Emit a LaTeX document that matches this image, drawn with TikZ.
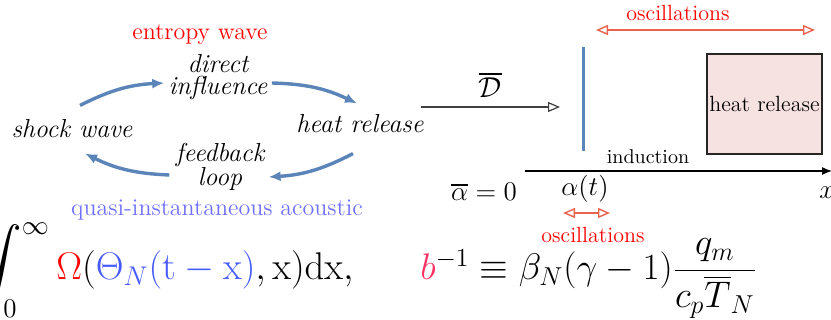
\RequirePackage{fix-cm}
\documentclass[tikz,border=0pt]{standalone}
\usepackage{amsmath}
\usetikzlibrary{arrows.meta,positioning}
\definecolor{cycblue}{RGB}{91,132,184}
\definecolor{oscred}{RGB}{232,98,78}
\definecolor{acoublue}{RGB}{110,110,255}
\definecolor{thetablue}{RGB}{70,90,255}
\definecolor{bpink}{RGB}{255,50,100}
\definecolor{heatfill}{RGB}{247,226,226}

\begin{document}
\begin{tikzpicture}[
  x=0.5pt,y=-0.5pt,
  cyc/.style={-{Latex[length=6pt,width=5pt]},line width=1.7pt,draw=cycblue},
  osc/.style={{Triangle[open,length=6pt,width=5pt]}-{Triangle[open,length=6pt,width=5pt]},line width=.7pt,draw=oscred},
  mean/.style={-{Triangle[open,length=6pt,width=5pt]},line width=.6pt,draw=black!75},
  word/.style={font=\fontsize{13}{15}\selectfont\itshape,inner sep=1pt,align=center},
  redtxt/.style={text=red,font=\fontsize{11}{13}\selectfont,inner sep=1pt},
  bigmath/.style={font=\fontsize{19.3}{23}\selectfont,inner sep=0pt,anchor=base west}]
\useasboundingbox (0,0) rectangle (831,320);

% loop of influences
\node[text=red,font=\large,inner sep=1pt] (entropy) at (200,35) {entropy wave};
\node[word] (direct) at (218,77) {direct\\[-4pt]influence};
\node[word] (shock) at (72,129) {shock wave};
\node[word] (heat) at (360,124) {heat release};
\node[word] (feedback) at (220,167) {feedback\\[-3pt]loop};
\node[text=acoublue,font=\large,inner sep=1pt] (acoustic) at (217,210) {quasi-instantaneous acoustic};
\draw[cyc] ([shift={(8,-12)}]shock.north) to[bend left=12] ([shift={(-2,6)}]direct.west);
\draw[cyc] ([shift={(2,6)}]direct.east) to[bend left=12] ([shift={(-3,-9)}]heat.north);
\draw[cyc] ([shift={(-7,18)}]heat.south) to[bend left=12] ([shift={(2,10)}]feedback.east);
\draw[cyc] ([shift={(-4,8)}]feedback.west) to[bend left=12] ([shift={(13,13)}]shock.south);

% front and induction zone
\coordinate (dstart) at (421,107);
\coordinate (dtip) at (560,107);
\draw[mean] (dstart) -- node[above=1pt,font=\Large] (dbar) {$\overline{\mathcal{D}}$} (dtip);
\node[fill=cycblue,minimum width=1.5pt,minimum height=52pt,inner sep=0pt] (front) at (583,99) {};
\node[draw=black!85,fill=heatfill,line width=.6pt,minimum width=57.5pt,minimum height=50pt,
  inner sep=0pt,font=\fontsize{11}{13}\selectfont] (box) at (764.5,104) {heat release};
\coordinate (oscl) at (596,30);
\coordinate (oscr) at (815,30);
\draw[osc] (oscl) -- (oscr);
\node[redtxt] (osctop) at (678,13) {oscillations};
\coordinate (axstart) at (525,171);
\coordinate (axend) at (832,171);
\draw[-{Latex[length=5pt,width=4pt]},line width=.6pt] (axstart) -- (axend);
\node[inner sep=1pt] (induction) at (648,157) {induction};
\node[font=\fontsize{13.5}{16}\selectfont,inner sep=0pt] (xlab) at (827,193) {$x$};
\node[font=\fontsize{13.5}{16}\selectfont,inner sep=0pt] (alphabar) at (484,192) {$\overline{\alpha}=0$};
\node[font=\fontsize{13.5}{16}\selectfont,inner sep=0pt] (alphat) at (585,189) {$\alpha(t)$};
\coordinate (oscsl) at (563,213);
\coordinate (oscsr) at (610,213);
\draw[osc] (oscsl) -- (oscsr);
\node[redtxt] (oscbot) at (593,235) {oscillations};

% formulas
\node[bigmath] (integral) at (-20,280)
 {$\displaystyle\int_0^\infty \textcolor{red}{\Omega}(\textcolor{thetablue}{\Theta_N(\mathrm{t}-\mathrm{x})},\mathrm{x})\mathrm{dx},$};
\node[bigmath,font=\fontsize{18.5}{22}\selectfont] (bdef) at (420,280)
 {$\textcolor{bpink}{b}^{-1}\equiv\beta_N(\gamma-1)\dfrac{q_m}{c_p\overline{T}_N}$};
\end{tikzpicture}
\end{document}
